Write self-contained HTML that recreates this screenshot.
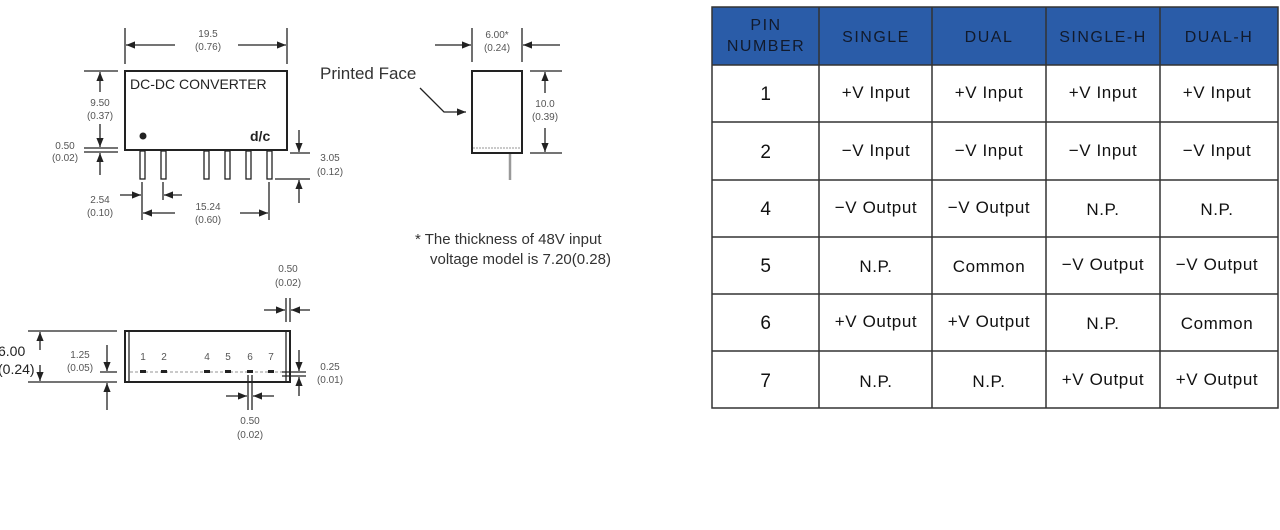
<!DOCTYPE html>
<html><head><meta charset="utf-8"><style>
html,body{margin:0;padding:0;background:#fff;}
svg{display:block;font-family:"Liberation Sans",Arial,sans-serif;}
</style></head><body>
<svg width="1280" height="530" viewBox="0 0 1280 530" xmlns="http://www.w3.org/2000/svg">
<defs>
<marker id="a" viewBox="0 0 10 10" refX="10" refY="5" markerWidth="7" markerHeight="7" orient="auto-start-reverse"><path d="M0,1 L10,5 L0,9 z" fill="#222"/></marker>
</defs>
<g stroke="#222" stroke-width="1.3" fill="none">
<rect x="125" y="71" width="162" height="79" stroke-width="2"/>
<g fill="#fff" stroke-width="1.3">
<rect x="140" y="151" width="5" height="28"/><rect x="161" y="151" width="5" height="28"/>
<rect x="204" y="151" width="5" height="28"/><rect x="225" y="151" width="5" height="28"/>
<rect x="246" y="151" width="5" height="28"/><rect x="267" y="151" width="5" height="28"/>
</g>
<line x1="125" y1="28" x2="125" y2="64"/><line x1="287" y1="28" x2="287" y2="64"/>
<line x1="175" y1="45" x2="126" y2="45" marker-end="url(#a)"/>
<line x1="238" y1="45" x2="286" y2="45" marker-end="url(#a)"/>
<line x1="84" y1="71" x2="118" y2="71"/>
<line x1="84" y1="148" x2="118" y2="148"/><line x1="84" y1="152" x2="118" y2="152"/>
<line x1="100" y1="92" x2="100" y2="72" marker-end="url(#a)"/>
<line x1="100" y1="124" x2="100" y2="147" marker-end="url(#a)"/>
<line x1="100" y1="175" x2="100" y2="153" marker-end="url(#a)"/>
<line x1="290" y1="153" x2="310" y2="153"/><line x1="275" y1="179" x2="310" y2="179"/>
<line x1="299" y1="130" x2="299" y2="152" marker-end="url(#a)"/>
<line x1="299" y1="203" x2="299" y2="180" marker-end="url(#a)"/>
<line x1="142" y1="182" x2="142" y2="220"/><line x1="269" y1="182" x2="269" y2="220"/>
<line x1="163" y1="182" x2="163" y2="200"/>
<line x1="120" y1="195" x2="141" y2="195" marker-end="url(#a)"/>
<line x1="182" y1="195" x2="164" y2="195" marker-end="url(#a)"/>
<line x1="175" y1="213" x2="143" y2="213" marker-end="url(#a)"/>
<line x1="240" y1="213" x2="268" y2="213" marker-end="url(#a)"/>
<rect x="472" y="71" width="50" height="82" stroke-width="2"/>
<line x1="473" y1="148" x2="521" y2="148" stroke="#aaa" stroke-dasharray="2,1"/>
<line x1="510" y1="154" x2="510" y2="180" stroke="#999" stroke-width="2.5"/>
<line x1="472" y1="28" x2="472" y2="62"/><line x1="522" y1="28" x2="522" y2="62"/>
<line x1="435" y1="45" x2="471" y2="45" marker-end="url(#a)"/>
<line x1="560" y1="45" x2="523" y2="45" marker-end="url(#a)"/>
<line x1="530" y1="71" x2="562" y2="71"/><line x1="530" y1="153" x2="562" y2="153"/>
<line x1="545" y1="93" x2="545" y2="72" marker-end="url(#a)"/>
<line x1="545" y1="128" x2="545" y2="152" marker-end="url(#a)"/>
<polyline points="420,88 444,112 466,112" marker-end="url(#a)"/>
<rect x="125" y="331" width="165" height="51" stroke-width="2"/>
<line x1="129" y1="331" x2="129" y2="382"/><line x1="286" y1="331" x2="286" y2="382"/>
<line x1="130" y1="372" x2="285" y2="372" stroke="#aaa" stroke-dasharray="3,2"/>
<line x1="28" y1="331" x2="117" y2="331"/><line x1="28" y1="382" x2="117" y2="382"/>
<line x1="40" y1="350" x2="40" y2="332" marker-end="url(#a)"/>
<line x1="40" y1="365" x2="40" y2="381" marker-end="url(#a)"/>
<line x1="100" y1="372" x2="117" y2="372"/>
<line x1="107" y1="345" x2="107" y2="371" marker-end="url(#a)"/>
<line x1="107" y1="410" x2="107" y2="383" marker-end="url(#a)"/>
<line x1="286" y1="298" x2="286" y2="322"/><line x1="290" y1="298" x2="290" y2="322"/>
<line x1="264" y1="310" x2="285" y2="310" marker-end="url(#a)"/>
<line x1="310" y1="310" x2="291" y2="310" marker-end="url(#a)"/>
<line x1="282" y1="372" x2="306" y2="372"/><line x1="282" y1="376" x2="306" y2="376"/>
<line x1="299" y1="350" x2="299" y2="371" marker-end="url(#a)"/>
<line x1="299" y1="396" x2="299" y2="377" marker-end="url(#a)"/>
<line x1="248" y1="375" x2="248" y2="410"/><line x1="252" y1="375" x2="252" y2="410"/>
<line x1="226" y1="396" x2="247" y2="396" marker-end="url(#a)"/>
<line x1="274" y1="396" x2="253" y2="396" marker-end="url(#a)"/>
</g>
<g fill="#222">
<circle cx="143" cy="136" r="3.5"/>
<rect x="140" y="370" width="6" height="3"/><rect x="161" y="370" width="6" height="3"/>
<rect x="204" y="370" width="6" height="3"/><rect x="225" y="370" width="6" height="3"/>
<rect x="247" y="370" width="6" height="3"/><rect x="268" y="370" width="6" height="3"/>
</g>
<g fill="#555" font-size="10" text-anchor="middle">
<text x="208" y="37">19.5</text><text x="208" y="50">(0.76)</text>
<text x="100" y="106">9.50</text><text x="100" y="119">(0.37)</text>
<text x="65" y="149">0.50</text><text x="65" y="161">(0.02)</text>
<text x="330" y="161">3.05</text><text x="330" y="175">(0.12)</text>
<text x="100" y="203">2.54</text><text x="100" y="216">(0.10)</text>
<text x="208" y="210">15.24</text><text x="208" y="223">(0.60)</text>
<text x="497" y="38">6.00*</text><text x="497" y="51">(0.24)</text>
<text x="545" y="107">10.0</text><text x="545" y="120">(0.39)</text>
<text x="80" y="358">1.25</text><text x="80" y="371">(0.05)</text>
<text x="288" y="272">0.50</text><text x="288" y="286">(0.02)</text>
<text x="330" y="370">0.25</text><text x="330" y="383">(0.01)</text>
<text x="250" y="424">0.50</text><text x="250" y="438">(0.02)</text>
<text x="143" y="360">1</text><text x="164" y="360">2</text><text x="207" y="360">4</text><text x="228" y="360">5</text><text x="250" y="360">6</text><text x="271" y="360">7</text>
</g>
<g fill="#222">
<text x="130" y="89" font-size="14">DC-DC CONVERTER</text>
<text x="250" y="141" font-size="14" font-weight="bold">d/c</text>
<text x="320" y="79" font-size="17" fill="#333">Printed Face</text>
<text x="-2" y="356" font-size="14">6.00</text><text x="-2" y="374" font-size="14">(0.24)</text>
<text x="415" y="244" font-size="15" fill="#333">* The thickness of 48V input</text>
<text x="430" y="264" font-size="15" fill="#333">voltage model is 7.20(0.28)</text>
</g>
<rect x="712" y="7" width="566" height="58" fill="#2a5ca8"/>
<g stroke="#333" stroke-width="1.5" fill="none">
<rect x="712" y="7" width="566" height="401"/>
<line x1="819" y1="7" x2="819" y2="408"/><line x1="932" y1="7" x2="932" y2="408"/>
<line x1="1046" y1="7" x2="1046" y2="408"/><line x1="1160" y1="7" x2="1160" y2="408"/>
<line x1="712" y1="65" x2="1278" y2="65"/><line x1="712" y1="122" x2="1278" y2="122"/>
<line x1="712" y1="180" x2="1278" y2="180"/><line x1="712" y1="237" x2="1278" y2="237"/>
<line x1="712" y1="294" x2="1278" y2="294"/><line x1="712" y1="351" x2="1278" y2="351"/>
</g>
<g fill="#111a2c" font-size="16" text-anchor="middle" letter-spacing="1.5">
<text x="766" y="30">PIN</text><text x="766" y="51">NUMBER</text>
<text x="876" y="42">SINGLE</text><text x="989" y="42">DUAL</text>
<text x="1103" y="42">SINGLE-H</text><text x="1219" y="42">DUAL-H</text>
</g>
<g fill="#111" font-size="17" text-anchor="middle" letter-spacing="0.6">
<text x="766" y="100" font-size="19">1</text><text x="876" y="98">+V Input</text><text x="989" y="98">+V Input</text><text x="1103" y="98">+V Input</text><text x="1217" y="98">+V Input</text>
<text x="766" y="158" font-size="19">2</text><text x="876" y="156">−V Input</text><text x="989" y="156">−V Input</text><text x="1103" y="156">−V Input</text><text x="1217" y="156">−V Input</text>
<text x="766" y="215" font-size="19">4</text><text x="876" y="213">−V Output</text><text x="989" y="213">−V Output</text><text x="1103" y="215">N.P.</text><text x="1217" y="215">N.P.</text>
<text x="766" y="272" font-size="19">5</text><text x="876" y="272">N.P.</text><text x="989" y="272">Common</text><text x="1103" y="270">−V Output</text><text x="1217" y="270">−V Output</text>
<text x="766" y="329" font-size="19">6</text><text x="876" y="327">+V Output</text><text x="989" y="327">+V Output</text><text x="1103" y="329">N.P.</text><text x="1217" y="329">Common</text>
<text x="766" y="387" font-size="19">7</text><text x="876" y="387">N.P.</text><text x="989" y="387">N.P.</text><text x="1103" y="385">+V Output</text><text x="1217" y="385">+V Output</text>
</g>
</svg>
</body></html>
